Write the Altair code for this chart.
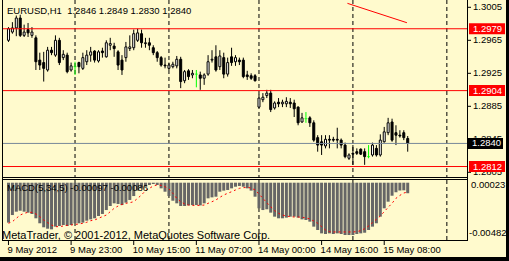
import altair as alt
import pandas as pd

symbol = "EURUSD,H1"
indicator_name = "MACD(5,34,5)"
copyright_text = "MetaTrader, \u00a9 2001-2012, MetaQuotes Software Corp."

opens = [1.2965, 1.2975, 1.2980, 1.2992, 1.2971, 1.2978, 1.2971, 1.2968, 1.2941, 1.2938,
         1.2929, 1.2953, 1.2947, 1.2965, 1.2944, 1.2947, 1.2929, 1.2933, 1.2938, 1.2931,
         1.2939, 1.2947, 1.2952, 1.2940, 1.2952, 1.2945, 1.2959, 1.2958, 1.2951, 1.2941,
         1.2944, 1.2955, 1.2956, 1.2965, 1.2973, 1.2961, 1.2962, 1.2956, 1.2950, 1.2944,
         1.2935, 1.2931, 1.2933, 1.2934, 1.2942, 1.2916, 1.2928, 1.2923, 1.2924, 1.2923,
         1.2919, 1.2924, 1.2941, 1.2945, 1.2933, 1.2944, 1.2924, 1.2945, 1.2939, 1.2941,
         1.2941, 1.2923, 1.2922, 1.2922, 1.2884, 1.2893, 1.2898, 1.2901, 1.2883, 1.2890,
         1.2888, 1.2888, 1.2890, 1.2889, 1.2884, 1.2866, 1.2870, 1.2871, 1.2865, 1.2847,
         1.2842, 1.2837, 1.2845, 1.2845, 1.2845, 1.2844, 1.2838, 1.2822, 1.2828, 1.2830,
         1.2833, 1.2830, 1.2824, 1.2826, 1.2834, 1.2826, 1.2842, 1.2853, 1.2866, 1.2853,
         1.2850, 1.2853, 1.2846]
highs = [1.2981, 1.2987, 1.2995, 1.2996, 1.2984, 1.2986, 1.2981, 1.2971, 1.2950, 1.2951,
         1.2957, 1.2957, 1.2971, 1.2968, 1.2953, 1.2950, 1.2938, 1.2939, 1.2939, 1.2950,
         1.2953, 1.2957, 1.2953, 1.2953, 1.2956, 1.2965, 1.2968, 1.2962, 1.2953, 1.2947,
         1.2963, 1.2971, 1.2978, 1.2979, 1.2978, 1.2968, 1.2968, 1.2959, 1.2952, 1.2946,
         1.2944, 1.2938, 1.2939, 1.2946, 1.2945, 1.2929, 1.2930, 1.2929, 1.2929, 1.2927,
         1.2925, 1.2947, 1.2953, 1.2959, 1.2953, 1.2950, 1.2944, 1.2956, 1.2947, 1.2944,
         1.2944, 1.2928, 1.2925, 1.2924, 1.2899, 1.2901, 1.2905, 1.2905, 1.2891, 1.2895,
         1.2893, 1.2896, 1.2895, 1.2893, 1.2885, 1.2877, 1.2878, 1.2873, 1.2868, 1.2850,
         1.2850, 1.2850, 1.2850, 1.2848, 1.2859, 1.2846, 1.2841, 1.2828, 1.2838, 1.2834,
         1.2834, 1.2834, 1.2838, 1.2841, 1.2838, 1.2851, 1.2860, 1.2871, 1.2870, 1.2862,
         1.2856, 1.2856, 1.2849]
lows = [1.2963, 1.2973, 1.2970, 1.2969, 1.2969, 1.2969, 1.2968, 1.2929, 1.2929, 1.2915,
        1.2927, 1.2947, 1.2945, 1.2935, 1.2941, 1.2925, 1.2927, 1.2923, 1.2925, 1.2929,
        1.2935, 1.2939, 1.2938, 1.2938, 1.2944, 1.2944, 1.2953, 1.2945, 1.2929, 1.2923,
        1.2939, 1.2952, 1.2953, 1.2963, 1.2956, 1.2956, 1.2953, 1.2947, 1.2939, 1.2933,
        1.2931, 1.2929, 1.2931, 1.2931, 1.2907, 1.2913, 1.2917, 1.2919, 1.2908, 1.2905,
        1.2911, 1.2922, 1.2938, 1.2927, 1.2929, 1.2919, 1.2921, 1.2934, 1.2934, 1.2935,
        1.2919, 1.2917, 1.2917, 1.2915, 1.2883, 1.2890, 1.2895, 1.2878, 1.2881, 1.2884,
        1.2884, 1.2884, 1.2883, 1.2872, 1.2862, 1.2865, 1.2865, 1.2860, 1.2842, 1.2830,
        1.2826, 1.2834, 1.2834, 1.2842, 1.2834, 1.2834, 1.2822, 1.2820, 1.2814, 1.2826,
        1.2826, 1.2814, 1.2822, 1.2824, 1.2824, 1.2824, 1.2841, 1.2850, 1.2842, 1.2838,
        1.2847, 1.2844, 1.2830]
closes = [1.2979, 1.2980, 1.2992, 1.2971, 1.2975, 1.2974, 1.2975, 1.2939, 1.2935, 1.2931,
          1.2953, 1.2950, 1.2965, 1.2938, 1.2948, 1.2927, 1.2934, 1.2933, 1.2933, 1.2944,
          1.2947, 1.2951, 1.2941, 1.2951, 1.2950, 1.2962, 1.2961, 1.2955, 1.2935, 1.2929,
          1.2957, 1.2957, 1.2973, 1.2974, 1.2962, 1.2962, 1.2959, 1.2950, 1.2944, 1.2935,
          1.2934, 1.2935, 1.2936, 1.2942, 1.2915, 1.2927, 1.2921, 1.2925, 1.2924, 1.2919,
          1.2923, 1.2939, 1.2942, 1.2929, 1.2946, 1.2924, 1.2938, 1.2938, 1.2944, 1.2939,
          1.2921, 1.2921, 1.2919, 1.2916, 1.2895, 1.2896, 1.2901, 1.2881, 1.2889, 1.2888,
          1.2890, 1.2891, 1.2888, 1.2882, 1.2865, 1.2871, 1.2870, 1.2865, 1.2844, 1.2838,
          1.2838, 1.2845, 1.2844, 1.2844, 1.2844, 1.2838, 1.2824, 1.2826, 1.2827, 1.2828,
          1.2827, 1.2824, 1.2824, 1.2838, 1.2826, 1.2844, 1.2854, 1.2865, 1.2844, 1.2850,
          1.2849, 1.2847, 1.2840]

macd_hist = [-0.00368, -0.00298, -0.00267, -0.00258, -0.00267, -0.00276, -0.00288, -0.00328, -0.00374, -0.00411,
             -0.00424, -0.00430, -0.00405, -0.00399, -0.00390, -0.00399, -0.00390, -0.00374, -0.00374, -0.00368,
             -0.00350, -0.00338, -0.00328, -0.00307, -0.00288, -0.00252, -0.00215, -0.00190, -0.00196, -0.00206,
             -0.00184, -0.00159, -0.00123, -0.00073, -0.00052, -0.00037, -0.00021, -0.00012, -0.00021, -0.00052,
             -0.00083, -0.00123, -0.00166, -0.00190, -0.00215, -0.00215, -0.00209, -0.00206, -0.00206, -0.00209,
             -0.00190, -0.00144, -0.00135, -0.00129, -0.00083, -0.00073, -0.00067, -0.00052, -0.00037, -0.00030,
             -0.00037, -0.00052, -0.00073, -0.00129, -0.00236, -0.00252, -0.00245, -0.00276, -0.00313, -0.00328,
             -0.00328, -0.00322, -0.00313, -0.00313, -0.00322, -0.00338, -0.00344, -0.00359, -0.00405, -0.00436,
             -0.00467, -0.00473, -0.00467, -0.00473, -0.00467, -0.00473, -0.00482, -0.00482, -0.00482, -0.00473,
             -0.00467, -0.00461, -0.00436, -0.00405, -0.00374, -0.00313, -0.00236, -0.00175, -0.00120, -0.00088,
             -0.00072, -0.00070, -0.00097]
signal_line = [-0.00374, -0.00359, -0.00328, -0.00298, -0.00282, -0.00273, -0.00273, -0.00288, -0.00313, -0.00344,
               -0.00368, -0.00390, -0.00405, -0.00405, -0.00399, -0.00393, -0.00390, -0.00384, -0.00381, -0.00374,
               -0.00365, -0.00350, -0.00344, -0.00328, -0.00313, -0.00298, -0.00267, -0.00236, -0.00215, -0.00200,
               -0.00190, -0.00184, -0.00175, -0.00144, -0.00113, -0.00073, -0.00052, -0.00030, -0.00021, -0.00024,
               -0.00037, -0.00058, -0.00098, -0.00144, -0.00175, -0.00196, -0.00206, -0.00209, -0.00209, -0.00209,
               -0.00206, -0.00190, -0.00175, -0.00159, -0.00135, -0.00113, -0.00098, -0.00083, -0.00067, -0.00052,
               -0.00046, -0.00043, -0.00049, -0.00067, -0.00104, -0.00144, -0.00184, -0.00221, -0.00258, -0.00282,
               -0.00298, -0.00307, -0.00313, -0.00316, -0.00316, -0.00319, -0.00325, -0.00334, -0.00353, -0.00374,
               -0.00405, -0.00436, -0.00451, -0.00454, -0.00454, -0.00454, -0.00454, -0.00454, -0.00454, -0.00451,
               -0.00442, -0.00424, -0.00399, -0.00368, -0.00338, -0.00307, -0.00267, -0.00227, -0.00190, -0.00144,
               -0.00117, -0.00095, -0.00086]

x_tick_bars = [0, 16, 32, 48, 64, 80, 96]
x_tick_labels = ["9 May 2012", "9 May 23:00", "10 May 15:00", "11 May 07:00",
                 "14 May 00:00", "14 May 16:00", "15 May 08:00"]
day_separator_bars = [17, 41, 64, 88, 112]
price_ticks = [1.3005, 1.2965, 1.2925, 1.2885, 1.2845, 1.2805]
level_prices = [1.2979, 1.2904, 1.2812]
bid_price = 1.2840
macd_axis_max = 0.00023
macd_axis_min = -0.00482
trend_bars = [86.6, 101.8]
trend_prices = [1.30098, 1.29863]

FONT = "Liberation Sans, Arial, sans-serif"
LABEL_SIZE = 9.5
BG = "#FFFACD"

bars = list(range(len(opens)))
candles = pd.DataFrame({"bar": bars, "open": opens, "high": highs, "low": lows, "close": closes})
macd_df = pd.DataFrame({"bar": bars, "macd": macd_hist, "signal": signal_line})
one = pd.DataFrame({"k": [0]})

xs = alt.Scale(domain=[-0.25, 116], range=[2.5, 467.5], nice=False, zero=False)
ps = alt.Scale(domain=[1.27993, 1.301385], range=[177, 0], nice=False, zero=False)
ms = alt.Scale(domain=[-0.0052806, 0.000341], range=[240, 179], nice=False, zero=False)


def X(f):
    return alt.X(f, type="quantitative", scale=xs, axis=None)


def PY(f):
    return alt.Y(f, type="quantitative", scale=ps, axis=None)


def MY(f):
    return alt.Y(f, type="quantitative", scale=ms, axis=None)


def label_text(**kw):
    return dict(font=FONT, fontSize=LABEL_SIZE, **kw)


layers = []

# day separators (dashed)
sep_df = pd.DataFrame({"bar": day_separator_bars})
layers.append(alt.Chart(sep_df).mark_rule(color="black", strokeDash=[4, 3], strokeWidth=1).encode(
    x=X("bar"), y=alt.value(0), y2=alt.value(177)))
layers.append(alt.Chart(sep_df).mark_rule(color="black", strokeDash=[4, 3], strokeWidth=1).encode(
    x=X("bar"), y=alt.value(180), y2=alt.value(240)))

# MACD histogram + signal
layers.append(alt.Chart(macd_df).mark_bar(size=3, color="#666666").encode(
    x=X("bar"), y=MY("macd"), y2=alt.datum(0)))
layers.append(alt.Chart(macd_df).mark_line(color="#ff0000", strokeDash=[2, 3], strokeWidth=1).encode(
    x=X("bar"), y=MY("signal")))

# candles
base = alt.Chart(candles)
layers.append(base.mark_rule(strokeWidth=1).encode(
    x=X("bar"), y=PY("low"), y2="high",
    color=alt.condition("datum.open == datum.close", alt.value("#00FF00"), alt.value("black"))))
layers.append(base.transform_filter("datum.open != datum.close").mark_bar(
    size=2, stroke="black", strokeWidth=1).encode(
    x=X("bar"), y=PY("open"), y2="close",
    fill=alt.condition("datum.close > datum.open", alt.value("white"), alt.value("black"))))
layers.append(base.transform_filter("datum.open == datum.close").mark_tick(
    orient="horizontal", size=3, thickness=1, color="#00FF00").encode(
    x=X("bar"), y=PY("close")))

# horizontal levels and bid line
lev_df = pd.DataFrame({"price": level_prices, "label": [f"{p:.4f}" for p in level_prices]})
layers.append(alt.Chart(lev_df).mark_rule(color="#ff0000", strokeWidth=1).encode(
    x=alt.value(2.5), x2=alt.value(467), y=PY("price")))
bid_df = pd.DataFrame({"price": [bid_price], "label": [f"{bid_price:.4f}"]})
layers.append(alt.Chart(bid_df).mark_rule(color="#778899", strokeWidth=1).encode(
    x=alt.value(2.5), x2=alt.value(467), y=PY("price")))

# trend line
trend_df = pd.DataFrame({"bar": trend_bars, "price": trend_prices})
layers.append(alt.Chart(trend_df).mark_line(color="#ff0000", strokeWidth=1).encode(
    x=X("bar"), y=PY("price")))

# frames
layers.append(alt.Chart(one).mark_rule(color="black", strokeWidth=1).encode(
    x=alt.value(2.5), y=alt.value(0), y2=alt.value(241)))
layers.append(alt.Chart(one).mark_rule(color="black", strokeWidth=1).encode(
    x=alt.value(467.5), y=alt.value(0), y2=alt.value(241)))
for yy in [177.5, 179.5, 240.5]:
    layers.append(alt.Chart(one).mark_rule(color="black", strokeWidth=1).encode(
        x=alt.value(2.5), x2=alt.value(467.5), y=alt.value(yy)))

# price axis ticks and labels
pt_df = pd.DataFrame({"price": price_ticks, "label": [f"{p:.4f}" for p in price_ticks]})
layers.append(alt.Chart(pt_df).mark_rule(color="black", strokeWidth=1).encode(
    x=alt.value(467), x2=alt.value(471), y=PY("price")))
layers.append(alt.Chart(pt_df).mark_text(**label_text(align="left", baseline="middle", color="black")).encode(
    x=alt.value(473), y=PY("price"), text="label"))

# price boxes
layers.append(alt.Chart(lev_df).mark_rule(color="#ff0000", strokeWidth=11, strokeCap="butt").encode(
    x=alt.value(469), x2=alt.value(505), y=PY("price")))
layers.append(alt.Chart(lev_df).mark_text(**label_text(align="left", baseline="middle", color="white")).encode(
    x=alt.value(473), y=PY("price"), text="label"))
layers.append(alt.Chart(bid_df).mark_rule(color="black", strokeWidth=11, strokeCap="butt").encode(
    x=alt.value(468), x2=alt.value(503), y=PY("price")))
layers.append(alt.Chart(bid_df).mark_text(**label_text(align="left", baseline="middle", color="white")).encode(
    x=alt.value(472), y=PY("price"), text="label"))

# MACD axis labels
mx_df = pd.DataFrame({"v": [macd_axis_max], "label": [f"{macd_axis_max:.5f}"]})
mn_df = pd.DataFrame({"v": [macd_axis_min], "label": [f"{macd_axis_min:.5f}"]})
layers.append(alt.Chart(mx_df).mark_text(**label_text(align="left", baseline="middle", dy=5, color="black")).encode(
    x=alt.value(471), y=MY("v"), text="label"))
layers.append(alt.Chart(mn_df).mark_text(**label_text(align="left", baseline="middle", dy=-2, color="black")).encode(
    x=alt.value(469), y=MY("v"), text="label"))

# time axis
xt_df = pd.DataFrame({"bar": x_tick_bars, "label": x_tick_labels})
layers.append(alt.Chart(xt_df).mark_rule(color="black", strokeWidth=1).encode(
    x=X("bar"), y=alt.value(240), y2=alt.value(245)))
layers.append(alt.Chart(xt_df).mark_text(**label_text(align="left", baseline="middle", dx=-1, color="black")).encode(
    x=X("bar"), y=alt.value(249.5), text="label"))

# header texts
header = f"{symbol}\u00a0 {opens[-1]:.4f} {highs[-1]:.4f} {lows[-1]:.4f} {closes[-1]:.4f}"
macd_label = f"{indicator_name} {macd_hist[-1]:.5f} {signal_line[-1]:.5f}"
txt_df = pd.DataFrame({"t": [header, macd_label, copyright_text],
                       "kind": ["h", "m", "c"]})
layers.append(alt.Chart(txt_df).transform_filter("datum.kind == 'h'").mark_text(
    **label_text(align="left", baseline="middle", color="black")).encode(
    x=alt.value(7), y=alt.value(11), text="t"))
layers.append(alt.Chart(txt_df).transform_filter("datum.kind == 'm'").mark_text(
    **label_text(align="left", baseline="middle", color="black")).encode(
    x=alt.value(7), y=alt.value(188), text="t"))
layers.append(alt.Chart(txt_df).transform_filter("datum.kind == 'c'").mark_text(
    align="left", baseline="middle", font=FONT, fontSize=11, color="black").encode(
    x=alt.value(2), y=alt.value(235.5), text="t"))

# window edge (black strips)
layers.append(alt.Chart(one).mark_rect(color="black").encode(
    x=alt.value(506), x2=alt.value(509), y=alt.value(0), y2=alt.value(261)))
layers.append(alt.Chart(one).mark_rect(color="black").encode(
    x=alt.value(0), x2=alt.value(509), y=alt.value(257), y2=alt.value(261)))

chart = alt.layer(*layers).resolve_scale(y="independent").properties(
    width=509, height=261, padding=0,
    autosize=alt.AutoSizeParams(type="none"),
    background=BG,
).configure_view(strokeWidth=0)

chart.save("out.html", embed_options={"renderer": "svg", "actions": False})
